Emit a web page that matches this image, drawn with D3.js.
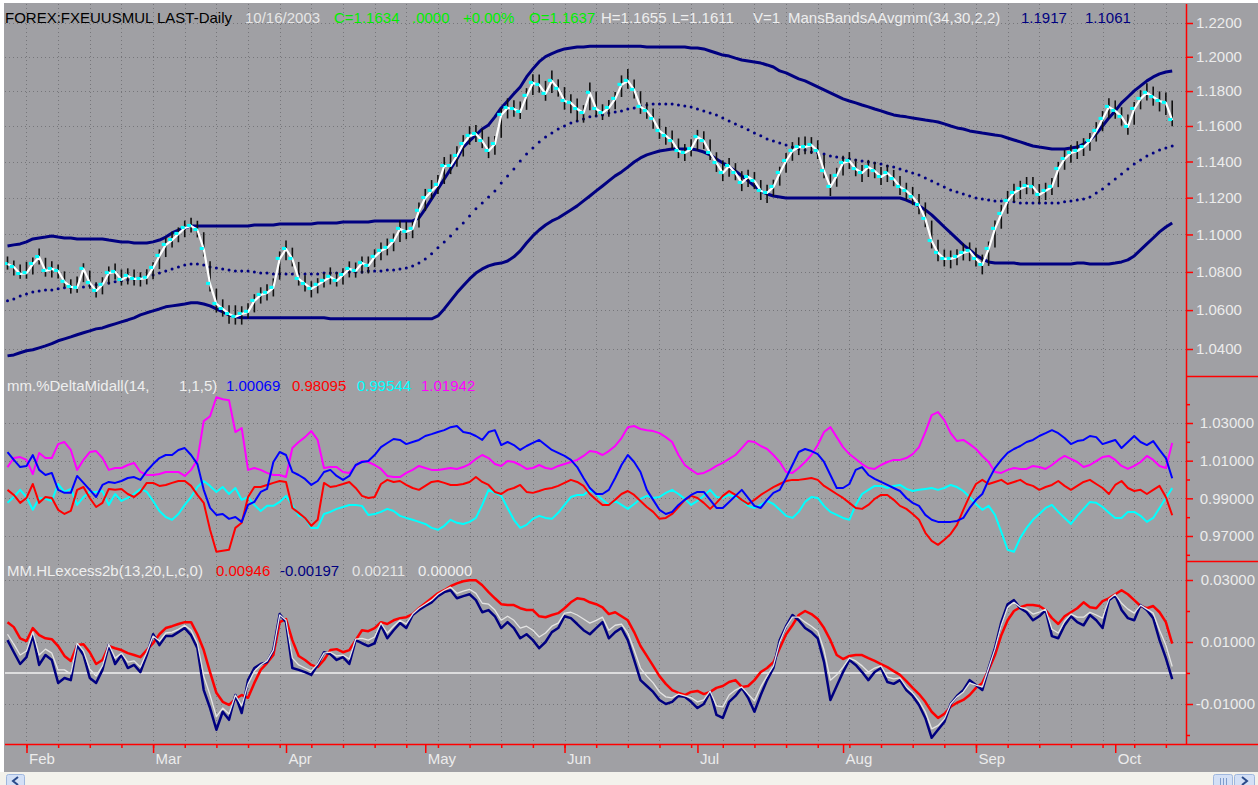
<!DOCTYPE html>
<html>
<head>
<meta charset="utf-8">
<script src="https://cdn.jsdelivr.net/npm/d3@7"></script>
<style>
  html, body { margin: 0; padding: 0; background: #ffffff; }
  svg { display: block; }
</style>
</head>
<body>
<svg id="chart" width="1258" height="785"></svg>
<script>
// ---- axis labels ----
const monthLabels = ['Feb', 'Mar', 'Apr', 'May', 'Jun', 'Jul', 'Aug', 'Sep', 'Oct'];
const priceTicks = [1.04, 1.06, 1.08, 1.10, 1.12, 1.14, 1.16, 1.18, 1.20, 1.22];
const deltaTicks = [0.97, 0.99, 1.01, 1.03];
const deltaMinorTicks = [0.96, 0.98, 1.00, 1.02, 1.04];
const excessTicks = [-0.01, 0.01, 0.03];
const excessMinorTicks = [-0.02, 0.00, 0.02];

// ---- price panel (EUR/USD daily) ----
const closes = [
  1.0842,1.0826,1.0789,1.0794,1.0842,1.0879,1.0805,1.0816,1.0805,1.0748,
  1.0721,1.0716,1.0816,1.0742,1.0700,1.0732,1.0794,1.0800,1.0758,1.0779,
  1.0763,1.0763,1.0769,1.0821,1.0885,1.0944,1.0970,1.1003,1.1035,1.1046,
  1.1024,1.0922,1.0737,1.0632,1.0606,1.0580,1.0565,1.0580,1.0591,1.0648,
  1.0679,1.0690,1.0716,1.0869,1.0922,1.0869,1.0763,1.0737,1.0711,1.0732,
  1.0753,1.0774,1.0753,1.0784,1.0816,1.0805,1.0847,1.0832,1.0880,1.0912,
  1.0928,1.0965,1.1030,1.1014,1.1030,1.1128,1.1198,1.1237,1.1270,1.1375,
  1.1375,1.1431,1.1498,1.1544,1.1555,1.1515,1.1459,1.1498,1.1663,1.1703,
  1.1697,1.1680,1.1772,1.1847,1.1836,1.1784,1.1859,1.1813,1.1743,1.1732,
  1.1697,1.1674,1.1790,1.1697,1.1674,1.1703,1.1755,1.1836,1.1859,1.1807,
  1.1709,1.1686,1.1640,1.1572,1.1544,1.1515,1.1459,1.1448,1.1470,1.1538,
  1.1515,1.1448,1.1392,1.1336,1.1375,1.1336,1.1281,1.1314,1.1292,1.1237,
  1.1226,1.1259,1.1336,1.1403,1.1459,1.1481,1.1481,1.1492,1.1459,1.1347,
  1.1259,1.1320,1.1392,1.1403,1.1358,1.1336,1.1369,1.1347,1.1314,1.1336,
  1.1303,1.1259,1.1237,1.1204,1.1160,1.1084,1.0965,1.0901,1.0869,1.0869,
  1.0880,1.0901,1.0912,1.0869,1.0837,1.0922,1.1030,1.1111,1.1182,1.1226,
  1.1248,1.1264,1.1259,1.1215,1.1237,1.1259,1.1358,1.1414,1.1448,1.1459,
  1.1481,1.1515,1.1572,1.1640,1.1709,1.1686,1.1652,1.1595,1.1697,1.1755,
  1.1790,1.1766,1.1743,1.1732,1.1634
];
const highs = [
  1.0882,1.0861,1.0839,1.0854,1.0877,1.0924,1.0875,1.0856,1.0840,1.0803,
  1.0761,1.0776,1.0846,1.0807,1.0745,1.0772,1.0829,1.0845,1.0813,1.0819,
  1.0813,1.0798,1.0814,1.0851,1.0920,1.0984,1.1015,1.1038,1.1075,1.1091,
  1.1074,1.1012,1.0857,1.0712,1.0656,1.0625,1.0625,1.0620,1.0636,1.0683,
  1.0719,1.0735,1.0766,1.0909,1.0967,1.0929,1.0853,1.0782,1.0751,1.0767,
  1.0793,1.0824,1.0798,1.0819,1.0856,1.0850,1.0882,1.0882,1.0920,1.0957,
  1.0978,1.1005,1.1075,1.1069,1.1070,1.1173,1.1248,1.1297,1.1325,1.1425,
  1.1440,1.1486,1.1548,1.1599,1.1605,1.1585,1.1539,1.1543,1.1703,1.1758,
  1.1747,1.1740,1.1817,1.1897,1.1896,1.1859,1.1919,1.1868,1.1823,1.1782,
  1.1757,1.1719,1.1850,1.1797,1.1724,1.1748,1.1795,1.1891,1.1929,1.1867,
  1.1799,1.1736,1.1700,1.1642,1.1594,1.1575,1.1529,1.1498,1.1525,1.1578,
  1.1570,1.1523,1.1452,1.1406,1.1420,1.1391,1.1346,1.1354,1.1342,1.1297,
  1.1271,1.1299,1.1371,1.1448,1.1509,1.1536,1.1541,1.1537,1.1519,1.1437,
  1.1329,1.1365,1.1432,1.1453,1.1413,1.1381,1.1409,1.1397,1.1369,1.1381,
  1.1353,1.1319,1.1282,1.1259,1.1220,1.1174,1.1075,1.0971,1.0919,1.0914,
  1.0920,1.0951,1.0957,1.0929,1.0892,1.0962,1.1075,1.1161,1.1237,1.1276,
  1.1293,1.1314,1.1314,1.1275,1.1282,1.1309,1.1398,1.1464,1.1493,1.1514,
  1.1531,1.1560,1.1622,1.1685,1.1759,1.1746,1.1707,1.1665,1.1737,1.1805,
  1.1845,1.1826,1.1798,1.1792,1.1745
];
const lows = [
  1.0812,1.0781,1.0764,1.0764,1.0787,1.0839,1.0775,1.0771,1.0765,1.0718,
  1.0686,1.0691,1.0746,1.0712,1.0665,1.0682,1.0734,1.0760,1.0728,1.0734,
  1.0728,1.0723,1.0734,1.0761,1.0815,1.0879,1.0930,1.0958,1.0985,1.1011,
  1.0984,1.0882,1.0697,1.0587,1.0566,1.0530,1.0525,1.0525,1.0556,1.0588,
  1.0634,1.0650,1.0671,1.0759,1.0862,1.0829,1.0728,1.0697,1.0666,1.0687,
  1.0718,1.0734,1.0723,1.0734,1.0771,1.0770,1.0792,1.0792,1.0825,1.0862,
  1.0888,1.0910,1.0960,1.0974,1.0980,1.1038,1.1128,1.1192,1.1220,1.1275,
  1.1330,1.1371,1.1428,1.1494,1.1510,1.1475,1.1419,1.1438,1.1533,1.1643,
  1.1652,1.1640,1.1692,1.1777,1.1791,1.1744,1.1789,1.1768,1.1693,1.1672,
  1.1627,1.1619,1.1690,1.1652,1.1634,1.1653,1.1695,1.1766,1.1814,1.1757,
  1.1669,1.1641,1.1585,1.1527,1.1494,1.1470,1.1419,1.1403,1.1430,1.1463,
  1.1470,1.1408,1.1342,1.1291,1.1315,1.1296,1.1236,1.1259,1.1247,1.1187,
  1.1171,1.1209,1.1266,1.1338,1.1404,1.1436,1.1441,1.1442,1.1414,1.1307,
  1.1209,1.1260,1.1322,1.1358,1.1318,1.1286,1.1314,1.1307,1.1269,1.1286,
  1.1263,1.1214,1.1187,1.1159,1.1110,1.1039,1.0925,1.0856,1.0829,1.0819,
  1.0835,1.0861,1.0857,1.0829,1.0787,1.0832,1.0930,1.1031,1.1112,1.1176,
  1.1193,1.1219,1.1219,1.1170,1.1187,1.1214,1.1258,1.1354,1.1393,1.1414,
  1.1431,1.1460,1.1512,1.1570,1.1644,1.1641,1.1602,1.1550,1.1607,1.1695,
  1.1745,1.1716,1.1683,1.1662,1.1598
];
const bandUpper = [
  1.0938,1.0944,1.0949,1.0960,1.0976,1.0981,1.0986,1.0992,1.0986,1.0981,
  1.0981,1.0976,1.0976,1.0976,1.0976,1.0976,1.0970,1.0965,1.0960,1.0960,
  1.0954,1.0954,1.0954,1.0960,1.0970,1.0986,1.1008,1.1024,1.1035,1.1046,
  1.1046,1.1046,1.1046,1.1046,1.1046,1.1046,1.1046,1.1046,1.1046,1.1051,
  1.1051,1.1051,1.1051,1.1057,1.1057,1.1057,1.1057,1.1057,1.1057,1.1062,
  1.1062,1.1062,1.1062,1.1067,1.1067,1.1067,1.1067,1.1067,1.1073,1.1073,
  1.1073,1.1073,1.1073,1.1073,1.1073,1.1089,1.1139,1.1193,1.1248,1.1303,
  1.1358,1.1414,1.1481,1.1515,1.1549,1.1583,1.1606,1.1652,1.1703,1.1743,
  1.1784,1.1824,1.1882,1.1929,1.1971,1.2001,1.2019,1.2034,1.2046,1.2052,
  1.2058,1.2058,1.2062,1.2062,1.2062,1.2062,1.2062,1.2062,1.2062,1.2062,
  1.2062,1.2058,1.2058,1.2058,1.2058,1.2058,1.2058,1.2058,1.2052,1.2052,
  1.2046,1.2034,1.2022,1.2010,1.2004,1.1992,1.1981,1.1975,1.1969,1.1963,
  1.1952,1.1940,1.1917,1.1906,1.1888,1.1871,1.1859,1.1842,1.1824,1.1807,
  1.1790,1.1772,1.1755,1.1743,1.1732,1.1720,1.1709,1.1697,1.1686,1.1674,
  1.1663,1.1657,1.1652,1.1646,1.1640,1.1634,1.1629,1.1623,1.1612,1.1600,
  1.1589,1.1583,1.1572,1.1566,1.1560,1.1555,1.1549,1.1544,1.1532,1.1521,
  1.1510,1.1498,1.1487,1.1481,1.1476,1.1470,1.1470,1.1470,1.1476,1.1481,
  1.1498,1.1521,1.1555,1.1600,1.1646,1.1686,1.1732,1.1766,1.1801,1.1830,
  1.1859,1.1882,1.1900,1.1911,1.1917
];
const bandMid = [
  1.0648,1.0658,1.0674,1.0684,1.0695,1.0700,1.0705,1.0705,1.0711,1.0716,
  1.0716,1.0721,1.0721,1.0727,1.0732,1.0737,1.0742,1.0748,1.0753,1.0758,
  1.0763,1.0769,1.0774,1.0784,1.0794,1.0805,1.0816,1.0826,1.0837,1.0842,
  1.0842,1.0837,1.0826,1.0821,1.0816,1.0810,1.0805,1.0805,1.0805,1.0800,
  1.0794,1.0794,1.0789,1.0789,1.0789,1.0789,1.0789,1.0789,1.0789,1.0789,
  1.0794,1.0794,1.0794,1.0794,1.0800,1.0800,1.0800,1.0805,1.0805,1.0805,
  1.0810,1.0810,1.0816,1.0821,1.0832,1.0847,1.0869,1.0896,1.0928,1.0960,
  1.0992,1.1030,1.1062,1.1100,1.1139,1.1171,1.1204,1.1237,1.1281,1.1320,
  1.1358,1.1403,1.1442,1.1476,1.1510,1.1538,1.1560,1.1583,1.1600,1.1617,
  1.1629,1.1640,1.1652,1.1657,1.1663,1.1674,1.1680,1.1686,1.1697,1.1703,
  1.1714,1.1720,1.1726,1.1726,1.1726,1.1726,1.1720,1.1714,1.1709,1.1697,
  1.1686,1.1674,1.1663,1.1646,1.1629,1.1612,1.1595,1.1578,1.1560,1.1544,
  1.1527,1.1515,1.1504,1.1492,1.1481,1.1470,1.1464,1.1453,1.1448,1.1442,
  1.1431,1.1425,1.1420,1.1414,1.1409,1.1403,1.1397,1.1392,1.1386,1.1375,
  1.1369,1.1358,1.1347,1.1336,1.1325,1.1309,1.1292,1.1275,1.1259,1.1242,
  1.1231,1.1220,1.1209,1.1198,1.1193,1.1187,1.1182,1.1182,1.1177,1.1177,
  1.1171,1.1171,1.1171,1.1171,1.1171,1.1171,1.1171,1.1177,1.1182,1.1187,
  1.1193,1.1204,1.1226,1.1248,1.1275,1.1303,1.1331,1.1358,1.1386,1.1409,
  1.1431,1.1448,1.1464,1.1476,1.1487
];
const bandLower = [
  1.0365,1.0370,1.0381,1.0391,1.0396,1.0406,1.0416,1.0427,1.0442,1.0452,
  1.0462,1.0473,1.0483,1.0493,1.0503,1.0508,1.0519,1.0529,1.0539,1.0549,
  1.0560,1.0575,1.0586,1.0596,1.0606,1.0617,1.0622,1.0627,1.0632,1.0638,
  1.0638,1.0632,1.0622,1.0606,1.0591,1.0575,1.0565,1.0560,1.0560,1.0560,
  1.0560,1.0560,1.0560,1.0560,1.0560,1.0560,1.0560,1.0560,1.0560,1.0560,
  1.0560,1.0555,1.0555,1.0555,1.0555,1.0555,1.0555,1.0555,1.0555,1.0555,
  1.0555,1.0555,1.0555,1.0555,1.0555,1.0555,1.0555,1.0555,1.0570,1.0606,
  1.0648,1.0690,1.0727,1.0763,1.0794,1.0816,1.0832,1.0842,1.0847,1.0858,
  1.0880,1.0912,1.0954,1.0992,1.1024,1.1051,1.1073,1.1089,1.1111,1.1133,
  1.1155,1.1182,1.1209,1.1237,1.1264,1.1292,1.1320,1.1342,1.1369,1.1397,
  1.1420,1.1437,1.1448,1.1459,1.1464,1.1470,1.1470,1.1470,1.1470,1.1464,
  1.1453,1.1437,1.1414,1.1392,1.1369,1.1347,1.1320,1.1292,1.1264,1.1237,
  1.1220,1.1209,1.1204,1.1198,1.1198,1.1198,1.1198,1.1198,1.1198,1.1198,
  1.1198,1.1198,1.1198,1.1198,1.1198,1.1198,1.1198,1.1198,1.1198,1.1198,
  1.1198,1.1198,1.1187,1.1171,1.1155,1.1133,1.1106,1.1073,1.1040,1.1008,
  1.0976,1.0944,1.0917,1.0890,1.0869,1.0853,1.0847,1.0847,1.0847,1.0847,
  1.0842,1.0842,1.0842,1.0842,1.0842,1.0842,1.0842,1.0842,1.0842,1.0847,
  1.0847,1.0842,1.0842,1.0842,1.0842,1.0847,1.0853,1.0864,1.0885,1.0917,
  1.0949,1.0981,1.1014,1.1040,1.1062
];

// ---- mm.%DeltaMidall panel ----
const deltaBlue = [
  1.0146,1.0104,1.0066,1.0072,1.0130,1.0051,1.0024,1.0035,0.9945,0.9929,
  0.9929,1.0019,0.9982,0.9945,0.9907,0.9971,0.9987,0.9982,0.9992,1.0008,
  1.0013,0.9998,1.0045,1.0082,1.0114,1.0130,1.0130,1.0157,1.0167,1.0130,
  1.0082,0.9945,0.9849,0.9812,0.9817,0.9791,0.9801,0.9775,0.9865,0.9881,
  0.9934,0.9950,1.0093,1.0146,1.0130,1.0040,1.0024,1.0003,0.9971,0.9992,
  1.0040,1.0051,1.0019,0.9998,1.0019,1.0077,1.0093,1.0098,1.0130,1.0172,
  1.0194,1.0215,1.0210,1.0188,1.0199,1.0210,1.0231,1.0241,1.0252,1.0262,
  1.0278,1.0284,1.0252,1.0246,1.0231,1.0210,1.0252,1.0262,1.0183,1.0199,
  1.0183,1.0157,1.0178,1.0194,1.0210,1.0183,1.0157,1.0141,1.0125,1.0104,
  1.0066,1.0008,0.9955,0.9923,0.9923,0.9945,1.0008,1.0077,1.0130,1.0093,
  1.0040,0.9945,0.9892,0.9839,0.9817,0.9828,0.9865,0.9892,0.9918,0.9934,
  0.9934,0.9892,0.9849,0.9849,0.9881,0.9913,0.9945,0.9902,0.9860,0.9849,
  0.9892,0.9929,0.9945,1.0008,1.0077,1.0146,1.0162,1.0151,1.0135,1.0093,
  1.0024,0.9955,0.9955,0.9976,1.0051,1.0066,1.0024,1.0003,0.9987,0.9971,
  0.9955,0.9939,0.9902,0.9876,0.9860,0.9812,0.9786,0.9775,0.9775,0.9775,
  0.9780,0.9796,0.9849,0.9892,0.9923,0.9998,1.0061,1.0104,1.0141,1.0162,
  1.0178,1.0199,1.0210,1.0231,1.0246,1.0262,1.0246,1.0220,1.0188,1.0204,
  1.0210,1.0231,1.0225,1.0188,1.0199,1.0210,1.0167,1.0199,1.0231,1.0199,
  1.0183,1.0204,1.0157,1.0114,1.0007
];
const deltaRed = [
  0.9945,0.9918,0.9876,0.9902,0.9976,0.9876,0.9907,0.9902,0.9839,0.9817,
  0.9833,0.9945,0.9960,0.9902,0.9854,0.9876,0.9950,0.9945,0.9950,0.9923,
  0.9907,0.9934,0.9982,0.9982,0.9966,0.9971,0.9982,0.9992,0.9992,0.9966,
  0.9918,0.9876,0.9733,0.9616,0.9622,0.9627,0.9743,0.9770,0.9907,0.9960,
  0.9960,0.9971,0.9982,0.9992,0.9987,0.9849,0.9823,0.9796,0.9754,0.9786,
  0.9982,0.9960,0.9966,0.9976,0.9987,0.9955,0.9913,0.9902,0.9907,0.9976,
  0.9998,0.9987,0.9992,0.9971,0.9955,0.9945,0.9966,0.9987,0.9992,0.9982,
  0.9971,0.9971,0.9976,0.9987,1.0013,0.9987,0.9971,0.9934,0.9923,0.9945,
  0.9955,0.9971,0.9934,0.9929,0.9939,0.9950,0.9955,0.9966,0.9982,0.9998,
  0.9987,0.9966,0.9923,0.9892,0.9865,0.9865,0.9892,0.9923,0.9939,0.9918,
  0.9886,0.9854,0.9828,0.9791,0.9796,0.9817,0.9854,0.9892,0.9913,0.9902,
  0.9876,0.9844,0.9876,0.9913,0.9939,0.9918,0.9892,0.9870,0.9892,0.9918,
  0.9939,0.9960,0.9976,0.9992,0.9998,0.9998,1.0003,1.0008,0.9998,0.9966,
  0.9945,0.9923,0.9902,0.9876,0.9849,0.9844,0.9865,0.9897,0.9918,0.9918,
  0.9892,0.9860,0.9844,0.9817,0.9786,0.9717,0.9674,0.9653,0.9680,0.9711,
  0.9759,0.9839,0.9913,0.9976,0.9998,0.9976,0.9987,0.9998,0.9976,0.9987,
  0.9998,0.9976,0.9966,0.9945,0.9960,0.9971,0.9992,0.9966,0.9945,0.9966,
  0.9987,0.9998,0.9976,0.9955,0.9923,0.9971,0.9992,0.9955,0.9939,0.9945,
  0.9923,0.9945,0.9966,0.9907,0.9810
];
const deltaCyan = [
  0.9876,0.9907,0.9945,0.9907,0.9839,0.9902,0.9897,0.9886,0.9976,0.9934,
  0.9950,0.9865,0.9907,0.9934,0.9934,0.9939,0.9865,0.9923,0.9886,0.9902,
  0.9923,0.9950,0.9934,0.9886,0.9833,0.9801,0.9786,0.9817,0.9865,0.9907,
  0.9960,0.9992,0.9966,0.9934,0.9960,0.9923,0.9955,0.9892,0.9907,0.9865,
  0.9833,0.9860,0.9860,0.9881,0.9913,0.9865,0.9807,0.9796,0.9743,0.9743,
  0.9817,0.9828,0.9844,0.9854,0.9865,0.9865,0.9860,0.9812,0.9817,0.9828,
  0.9844,0.9833,0.9807,0.9796,0.9786,0.9775,0.9764,0.9743,0.9733,0.9754,
  0.9786,0.9770,0.9764,0.9775,0.9796,0.9865,0.9945,0.9929,0.9913,0.9849,
  0.9786,0.9743,0.9759,0.9791,0.9807,0.9796,0.9791,0.9823,0.9865,0.9907,
  0.9918,0.9918,0.9945,0.9923,0.9892,0.9865,0.9886,0.9865,0.9844,0.9870,
  0.9897,0.9913,0.9902,0.9907,0.9929,0.9945,0.9923,0.9897,0.9865,0.9886,
  0.9913,0.9945,0.9907,0.9902,0.9918,0.9907,0.9892,0.9860,0.9849,0.9865,
  0.9886,0.9870,0.9839,0.9807,0.9796,0.9828,0.9881,0.9907,0.9902,0.9860,
  0.9828,0.9812,0.9796,0.9786,0.9865,0.9923,0.9945,0.9966,0.9966,0.9955,
  0.9966,0.9971,0.9950,0.9939,0.9945,0.9950,0.9955,0.9945,0.9955,0.9971,
  0.9960,0.9939,0.9907,0.9870,0.9839,0.9860,0.9812,0.9722,0.9627,0.9616,
  0.9690,0.9743,0.9786,0.9817,0.9849,0.9865,0.9828,0.9796,0.9764,0.9807,
  0.9844,0.9881,0.9876,0.9854,0.9823,0.9796,0.9796,0.9828,0.9828,0.9807,
  0.9775,0.9796,0.9849,0.9902,0.9954
];
const deltaMagenta = [
  1.0066,1.0114,1.0119,1.0104,1.0029,1.0141,1.0114,1.0114,1.0188,1.0199,
  1.0157,1.0051,1.0104,1.0146,1.0151,1.0114,1.0051,1.0061,1.0061,1.0077,
  1.0088,1.0040,1.0024,1.0024,1.0029,1.0040,1.0040,1.0040,1.0019,1.0051,
  1.0104,1.0310,1.0336,1.0437,1.0426,1.0421,1.0252,1.0273,1.0051,1.0061,
  1.0051,1.0035,1.0024,1.0024,1.0013,1.0167,1.0199,1.0225,1.0257,1.0210,
  1.0061,1.0066,1.0066,1.0040,1.0035,1.0072,1.0098,1.0093,1.0077,1.0056,
  1.0019,1.0013,1.0013,1.0035,1.0051,1.0072,1.0061,1.0051,1.0051,1.0056,
  1.0061,1.0056,1.0066,1.0082,1.0109,1.0130,1.0114,1.0082,1.0072,1.0098,
  1.0093,1.0077,1.0056,1.0061,1.0077,1.0061,1.0056,1.0072,1.0082,1.0093,
  1.0104,1.0125,1.0151,1.0146,1.0130,1.0151,1.0178,1.0220,1.0278,1.0284,
  1.0268,1.0262,1.0257,1.0246,1.0225,1.0199,1.0130,1.0077,1.0051,1.0029,
  1.0035,1.0051,1.0072,1.0088,1.0109,1.0130,1.0167,1.0204,1.0199,1.0178,
  1.0162,1.0130,1.0093,1.0040,1.0035,1.0061,1.0093,1.0130,1.0183,1.0252,
  1.0278,1.0225,1.0172,1.0135,1.0109,1.0082,1.0061,1.0056,1.0077,1.0093,
  1.0104,1.0104,1.0114,1.0135,1.0172,1.0252,1.0342,1.0358,1.0315,1.0246,
  1.0204,1.0210,1.0188,1.0162,1.0125,1.0093,1.0040,1.0035,1.0051,1.0061,
  1.0056,1.0056,1.0072,1.0066,1.0056,1.0077,1.0104,1.0125,1.0109,1.0093,
  1.0066,1.0077,1.0098,1.0119,1.0125,1.0104,1.0072,1.0056,1.0072,1.0093,
  1.0125,1.0104,1.0072,1.0061,1.0194
];

// ---- MM.HLexcess2b panel ----
const excessRed = [
  0.0164,0.0148,0.0112,0.0103,0.0145,0.0122,0.0112,0.0109,0.0087,0.0055,
  0.0039,0.0090,0.0093,0.0067,0.0029,0.0042,0.0087,0.0080,0.0074,0.0064,
  0.0058,0.0051,0.0074,0.0096,0.0125,0.0145,0.0151,0.0158,0.0164,0.0164,
  0.0125,0.0074,0.0003,-0.0064,-0.0093,-0.0103,-0.0084,-0.0071,-0.0080,-0.0032,
  0.0010,0.0032,0.0058,0.0164,0.0174,0.0106,0.0055,0.0042,0.0026,0.0019,
  0.0042,0.0074,0.0077,0.0067,0.0074,0.0106,0.0138,0.0135,0.0145,0.0164,
  0.0158,0.0170,0.0177,0.0180,0.0190,0.0209,0.0225,0.0241,0.0257,0.0267,
  0.0280,0.0289,0.0296,0.0299,0.0299,0.0283,0.0261,0.0241,0.0222,0.0219,
  0.0219,0.0209,0.0203,0.0203,0.0183,0.0180,0.0187,0.0193,0.0209,0.0228,
  0.0241,0.0238,0.0228,0.0222,0.0212,0.0190,0.0196,0.0183,0.0170,0.0132,
  0.0087,0.0055,0.0023,-0.0010,-0.0035,-0.0055,-0.0064,-0.0071,-0.0061,-0.0058,
  -0.0068,-0.0061,-0.0048,-0.0042,-0.0029,-0.0023,-0.0045,-0.0042,-0.0023,0.0003,
  0.0016,0.0035,0.0080,0.0125,0.0154,0.0187,0.0200,0.0190,0.0174,0.0145,
  0.0106,0.0058,0.0045,0.0055,0.0058,0.0058,0.0048,0.0039,0.0029,0.0019,
  0.0006,-0.0006,-0.0026,-0.0048,-0.0068,-0.0093,-0.0125,-0.0145,-0.0132,-0.0109,
  -0.0096,-0.0087,-0.0071,-0.0048,-0.0032,0.0010,0.0058,0.0122,0.0170,0.0200,
  0.0212,0.0219,0.0219,0.0216,0.0203,0.0177,0.0158,0.0183,0.0196,0.0209,
  0.0228,0.0212,0.0209,0.0232,0.0241,0.0254,0.0267,0.0254,0.0235,0.0216,
  0.0209,0.0216,0.0196,0.0164,0.0095
];
const excessNavy = [
  0.0106,0.0067,0.0029,0.0051,0.0122,0.0026,0.0058,0.0042,-0.0032,-0.0016,
  -0.0023,0.0090,0.0058,-0.0016,-0.0032,0.0010,0.0090,0.0029,0.0058,0.0016,
  0.0026,0.0003,0.0058,0.0125,0.0090,0.0119,0.0119,0.0132,0.0145,0.0122,
  0.0080,-0.0055,-0.0113,-0.0183,-0.0125,-0.0151,-0.0071,-0.0129,-0.0023,0.0016,
  0.0029,0.0035,0.0074,0.0190,0.0164,0.0016,0.0010,0.0003,-0.0006,0.0026,
  0.0067,0.0061,0.0042,0.0051,0.0029,0.0106,0.0096,0.0087,0.0096,0.0154,
  0.0112,0.0138,0.0161,0.0145,0.0187,0.0203,0.0216,0.0228,0.0248,0.0261,
  0.0267,0.0241,0.0248,0.0254,0.0235,0.0196,0.0203,0.0183,0.0145,0.0164,
  0.0145,0.0112,0.0125,0.0106,0.0080,0.0100,0.0132,0.0145,0.0183,0.0177,
  0.0158,0.0138,0.0125,0.0145,0.0164,0.0112,0.0132,0.0145,0.0106,0.0042,
  -0.0023,-0.0042,-0.0061,-0.0087,-0.0100,-0.0093,-0.0074,-0.0077,-0.0093,-0.0113,
  -0.0100,-0.0061,-0.0135,-0.0145,-0.0093,-0.0074,-0.0048,-0.0080,-0.0125,-0.0071,
  -0.0023,0.0016,0.0106,0.0151,0.0187,0.0170,0.0145,0.0132,0.0112,0.0035,
  -0.0087,-0.0042,0.0003,0.0042,0.0026,0.0003,-0.0023,0.0003,0.0016,-0.0029,
  -0.0035,-0.0023,-0.0055,-0.0074,-0.0103,-0.0145,-0.0209,-0.0183,-0.0158,-0.0100,
  -0.0074,-0.0055,-0.0023,-0.0039,-0.0055,0.0016,0.0080,0.0164,0.0222,0.0235,
  0.0209,0.0196,0.0170,0.0183,0.0203,0.0119,0.0112,0.0154,0.0183,0.0164,
  0.0154,0.0187,0.0170,0.0145,0.0235,0.0251,0.0203,0.0177,0.0170,0.0219,
  0.0203,0.0177,0.0106,0.0048,-0.0020
];
const excessWhite = [
  0.0125,0.0093,0.0058,0.0071,0.0132,0.0058,0.0077,0.0064,0.0010,0.0010,
  -0.0003,0.0096,0.0071,0.0013,-0.0010,0.0023,0.0093,0.0048,0.0064,0.0035,
  0.0039,0.0019,0.0067,0.0119,0.0103,0.0129,0.0132,0.0141,0.0154,0.0138,
  0.0096,-0.0010,-0.0071,-0.0141,-0.0113,-0.0132,-0.0071,-0.0106,-0.0035,0.0006,
  0.0026,0.0039,0.0074,0.0187,0.0170,0.0048,0.0026,0.0016,0.0006,0.0029,
  0.0064,0.0067,0.0055,0.0058,0.0045,0.0109,0.0112,0.0106,0.0116,0.0161,
  0.0129,0.0151,0.0170,0.0158,0.0190,0.0209,0.0222,0.0235,0.0254,0.0267,
  0.0277,0.0257,0.0264,0.0270,0.0257,0.0225,0.0222,0.0203,0.0170,0.0183,
  0.0170,0.0145,0.0151,0.0138,0.0116,0.0129,0.0151,0.0161,0.0193,0.0196,
  0.0187,0.0174,0.0161,0.0170,0.0180,0.0138,0.0154,0.0158,0.0129,0.0074,
  0.0016,-0.0010,-0.0032,-0.0061,-0.0077,-0.0080,-0.0068,-0.0074,-0.0080,-0.0093,
  -0.0087,-0.0058,-0.0106,-0.0109,-0.0071,-0.0055,-0.0045,-0.0068,-0.0090,-0.0045,
  -0.0010,0.0023,0.0100,0.0148,0.0180,0.0180,0.0164,0.0151,0.0135,0.0074,
  -0.0023,-0.0006,0.0019,0.0048,0.0039,0.0023,0.0003,0.0016,0.0023,-0.0013,
  -0.0019,-0.0016,-0.0045,-0.0064,-0.0090,-0.0125,-0.0180,-0.0170,-0.0148,-0.0100,
  -0.0077,-0.0061,-0.0032,-0.0039,-0.0045,0.0016,0.0077,0.0154,0.0212,0.0228,
  0.0212,0.0206,0.0190,0.0196,0.0206,0.0141,0.0129,0.0167,0.0190,0.0180,
  0.0180,0.0196,0.0187,0.0177,0.0238,0.0254,0.0225,0.0206,0.0193,0.0219,
  0.0206,0.0193,0.0138,0.0090,0.0021
];

// ---- layout ----
const FONT = '"Liberation Sans", Arial, Helvetica, sans-serif';
const W = 1258, H = 785;
const plotLeft = 5, axisX = 1186, axisY = 744;
const topPanel = [4, 376], midPanel = [376, 561], botPanel = [561, 744];
const BG = '#a0a0a4', LABEL = '#ececec', RED = '#ff0000', NAVY = '#000080';

// trading days (weekdays) shown on the chart
const dates = d3.timeDay.range(new Date(2003, 0, 29), new Date(2003, 9, 15))
  .filter(d => d.getDay() > 0 && d.getDay() < 6);
const idx = d3.range(dates.length);
const monthStarts = idx.filter(i => i > 0 && dates[i].getMonth() !== dates[i - 1].getMonth());
const mondays = idx.filter(i => dates[i].getDay() === 1);

const x = d3.scaleLinear().domain([0, dates.length - 1]).range([7.5, 1172.2]);
const yTop = d3.scaleLog().domain([1.04, 1.22]).range([349, 23]);
const yMid = d3.scaleLinear().domain([0.97, 1.03]).range([536, 423]);
const yBot = d3.scaleLinear().domain([-0.01, 0.03]).range([704, 580]);

const svg = d3.select('#chart').style('font-family', FONT);

// background, scroll bar
svg.append('rect').attr('x', 4).attr('y', 3).attr('width', W - 4).attr('height', 769).attr('fill', BG);
svg.append('rect').attr('x', 0).attr('y', 772).attr('width', W).attr('height', 13).attr('fill', '#f3f2ec');
const btn = (bx, bw) => svg.append('rect').attr('x', bx).attr('y', 774.5).attr('width', bw).attr('height', 14)
  .attr('rx', 2).attr('fill', '#d3e0f6').attr('stroke', '#9fb7de');
btn(6.5, 18); btn(1213.5, 19); btn(1234.5, 20);
svg.append('path').attr('d', 'M18,777 L13,781 L18,785').attr('fill', 'none').attr('stroke', '#2a4a8a').attr('stroke-width', 2);
svg.append('path').attr('d', 'M1242,777 L1247,781 L1242,785').attr('fill', 'none').attr('stroke', '#2a4a8a').attr('stroke-width', 2);
[1220, 1223, 1226].forEach(gx => svg.append('line').attr('x1', gx + 0.5).attr('x2', gx + 0.5)
  .attr('y1', 778).attr('y2', 785).attr('stroke', '#7f9ccc'));

// dotted grid
const grid = svg.append('g').attr('stroke', '#76767a').attr('stroke-dasharray', '1,3');
grid.selectAll('line.v').data(mondays).join('line')
  .attr('x1', d => Math.round(x(d)) + 0.5).attr('x2', d => Math.round(x(d)) + 0.5)
  .attr('y1', 4).attr('y2', axisY);
const hGrid = (vals, scale) => grid.selectAll(null).data(vals).join('line')
  .attr('x1', plotLeft).attr('x2', axisX)
  .attr('y1', d => Math.round(scale(d)) + 0.5).attr('y2', d => Math.round(scale(d)) + 0.5);
hGrid(priceTicks, yTop);
hGrid(deltaTicks, yMid);
hGrid(excessTicks, yBot);

// clip paths for the three panels
const defs = svg.append('defs');
[['clipTop', topPanel], ['clipMid', midPanel], ['clipBot', botPanel]].forEach(([id, p]) => {
  defs.append('clipPath').attr('id', id).append('rect')
    .attr('x', plotLeft).attr('y', p[0]).attr('width', axisX - plotLeft).attr('height', p[1] - p[0]);
});

// ---- price panel ----
const gTop = svg.append('g').attr('clip-path', 'url(#clipTop)');
const lineTop = d3.line().x((d, i) => x(i)).y(d => yTop(d));
[bandUpper, bandLower].forEach(band => gTop.append('path').attr('d', lineTop(band))
  .attr('fill', 'none').attr('stroke', NAVY).attr('stroke-width', 3).attr('stroke-linejoin', 'round'));
gTop.selectAll('circle.mid').data(bandMid).join('circle')
  .attr('cx', (d, i) => x(i)).attr('cy', d => yTop(d)).attr('r', 1.5).attr('fill', NAVY);
gTop.selectAll('line.bar').data(closes).join('line')
  .attr('x1', (d, i) => x(i)).attr('x2', (d, i) => x(i))
  .attr('y1', (d, i) => yTop(highs[i])).attr('y2', (d, i) => yTop(lows[i]))
  .attr('stroke', '#101010').attr('stroke-width', 1.6);
gTop.append('path').attr('d', lineTop(closes)).attr('fill', 'none')
  .attr('stroke', '#ffffff').attr('stroke-width', 2.2).attr('stroke-linejoin', 'round');
gTop.selectAll('rect.close').data(closes).join('rect')
  .attr('x', (d, i) => x(i) - 4).attr('y', d => yTop(d) - 2).attr('width', 4).attr('height', 3)
  .attr('fill', '#00ffff');

// ---- delta panel ----
const gMid = svg.append('g').attr('clip-path', 'url(#clipMid)');
const lineMid = d3.line().x((d, i) => x(i)).y(d => yMid(d));
[[deltaCyan, '#00ffff'], [deltaRed, '#ff0000'], [deltaMagenta, '#ff00ff'], [deltaBlue, '#0000ff']]
  .forEach(([s, c]) => gMid.append('path').attr('d', lineMid(s)).attr('fill', 'none')
    .attr('stroke', c).attr('stroke-width', 2).attr('stroke-linejoin', 'round'));

// ---- excess panel ----
const gBot = svg.append('g').attr('clip-path', 'url(#clipBot)');
const lineBot = d3.line().x((d, i) => x(i)).y(d => yBot(d));
gBot.append('line').attr('x1', plotLeft).attr('x2', axisX)
  .attr('y1', yBot(0)).attr('y2', yBot(0)).attr('stroke', '#f2f2f2').attr('stroke-width', 1.5);
[[excessRed, '#ff0000', 2.5], [excessNavy, NAVY, 2.5], [excessWhite, '#e4e4e4', 1.3]]
  .forEach(([s, c, w]) => gBot.append('path').attr('d', lineBot(s)).attr('fill', 'none')
    .attr('stroke', c).attr('stroke-width', w).attr('stroke-linejoin', 'round'));

// ---- axes ----
function styleAxis(g) {
  g.select('.domain').remove();
  g.selectAll('.tick line').attr('stroke', RED).attr('stroke-width', 1.5);
  g.selectAll('.tick text').attr('fill', LABEL).style('font-size', '15px').style('font-family', FONT);
}
const rightAxis = (scale, vals, size, fmt) => svg.append('g').attr('transform', `translate(${axisX},0)`)
  .call(d3.axisRight(scale).tickValues(vals).tickSize(size).tickPadding(3).tickFormat(fmt))
  .call(styleAxis);
rightAxis(yTop, priceTicks, 7, d => d.toFixed(4));
rightAxis(yMid, deltaMinorTicks, 4, () => '');
rightAxis(yMid, deltaTicks, 7, d => d.toFixed(5)).selectAll('.tick text').attr('text-anchor', 'end').attr('x', 68);
rightAxis(yBot, excessMinorTicks, 4, () => '');
rightAxis(yBot, excessTicks, 7, d => d.toFixed(5)).selectAll('.tick text').attr('text-anchor', 'end').attr('x', 69);

svg.append('g').attr('transform', `translate(0,${axisY})`)
  .call(d3.axisBottom(x).tickValues(mondays).tickSize(4).tickFormat(() => ''))
  .call(styleAxis);
svg.append('g').attr('transform', `translate(0,${axisY})`)
  .call(d3.axisBottom(x).tickValues(monthStarts).tickSize(9).tickPadding(0)
    .tickFormat((d, i) => monthLabels[i]))
  .call(styleAxis)
  .selectAll('.tick text').attr('text-anchor', 'start').attr('dx', 2);

// axis frame lines
svg.append('line').attr('x1', axisX + 0.5).attr('x2', axisX + 0.5).attr('y1', 4).attr('y2', axisY + 1)
  .attr('stroke', RED).attr('stroke-width', 1.5);
svg.append('line').attr('x1', plotLeft).attr('x2', W).attr('y1', axisY + 0.5).attr('y2', axisY + 0.5)
  .attr('stroke', RED).attr('stroke-width', 1.5);
[midPanel[0], botPanel[0]].forEach(py => svg.append('line')
  .attr('x1', axisX).attr('x2', W).attr('y1', py + 0.5).attr('y2', py + 0.5)
  .attr('stroke', RED).attr('stroke-width', 1.5));

// ---- panel headers ----
function header(items, y) {
  svg.append('g').selectAll('text').data(items).join('text')
    .attr('x', d => d[2]).attr('y', y).attr('fill', d => d[1])
    .style('font-size', '15px').style('font-family', FONT).text(d => d[0]);
}
header([
  ['FOREX:FXEUUSMUL LAST-Daily', '#000000', 5],
  ['10/16/2003', '#e6e6e6', 245],
  ['C=1.1634', '#00ee00', 334],
  ['.0000', '#00ee00', 412],
  ['+0.00%', '#00ee00', 463],
  ['O=1.1637', '#00ee00', 529],
  ['H=1.1655', '#eeeeee', 601],
  ['L=1.1611', '#eeeeee', 672],
  ['V=1', '#eeeeee', 753],
  ['MansBandsAAvgmm(34,30,2,2)', '#eeeeee', 788],
  ['1.1917', NAVY, 1021],
  ['1.1061', NAVY, 1085]
], 23);
header([
  ['mm.%DeltaMidall(14,', '#eeeeee', 7],
  ['1,1,5)', '#eeeeee', 179],
  ['1.00069', '#0000ff', 226],
  ['0.98095', '#ff0000', 292],
  ['0.99544', '#00ffff', 357],
  ['1.01942', '#ff00ff', 421]
], 391);
header([
  ['MM.HLexcess2b(13,20,L,c,0)', '#eeeeee', 7],
  ['0.00946', '#ff0000', 216],
  ['-0.00197', NAVY, 280],
  ['0.00211', '#e4e4e4', 352],
  ['0.00000', '#eeeeee', 418]
], 576);
</script>
</body>
</html>
